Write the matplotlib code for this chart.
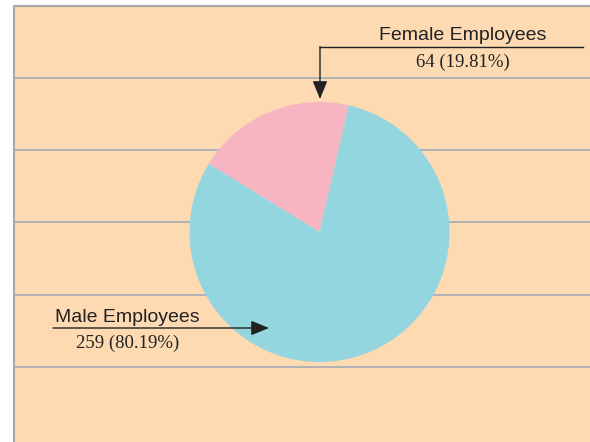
import matplotlib.pyplot as plt
from matplotlib.patches import Rectangle

# data
labels = ['Female Employees', 'Male Employees']
counts = [64, 259]
colors = ['#F7B5C1', '#93D6E0']

total = sum(counts)
pcts = [c / total * 100 for c in counts]

fig = plt.figure(figsize=(5.9, 4.42), dpi=100)
fig.patch.set_facecolor('white')
ax = fig.add_axes([0, 0, 1, 1])

# plot area background + border
ax.add_patch(Rectangle((13.5, 5.5), 600, 500, facecolor='#FDDAB2',
                       edgecolor='#A8A8A8', linewidth=1.5, zorder=0))
for y in [78, 150, 222, 294.5, 366.5]:
    ax.plot([14, 590], [y, y], color='#A3AAB8', linewidth=1.2, zorder=1)

# pie (y axis is flipped below, so go clockwise in data coords)
ax.pie(counts, colors=colors, startangle=-77, counterclock=False,
       center=(319.5, 232), radius=130, frame=True,
       wedgeprops=dict(linewidth=0))
ax.set_xlim(0, 590)
ax.set_ylim(442, 0)
ax.axis('off')

# female callout
ax.plot([320, 583], [47, 47], color='#222222', linewidth=1)
ax.annotate('', xy=(320, 99), xytext=(320, 46.5),
            arrowprops=dict(arrowstyle='-|>,head_length=1.1,head_width=0.45',
                            color='#222222', lw=1, shrinkA=0, shrinkB=0))
ax.text(463, 35, labels[0], ha='center', va='center', fontsize=14,
        family='Liberation Sans', color='#222222')
ax.text(463, 62, f'{counts[0]} ({pcts[0]:.2f}%)', ha='center', va='center',
        fontsize=13.5, family='Liberation Serif', color='#222222')

# male callout
ax.annotate('', xy=(269, 328), xytext=(53, 328),
            arrowprops=dict(arrowstyle='-|>,head_length=1.1,head_width=0.45',
                            color='#222222', lw=1, shrinkA=0, shrinkB=0))
ax.text(55, 318, labels[1], ha='left', va='center', fontsize=14,
        family='Liberation Sans', color='#222222')
ax.text(128, 343, f'{counts[1]} ({pcts[1]:.2f}%)', ha='center', va='center',
        fontsize=13.5, family='Liberation Serif', color='#222222')

fig.savefig('out.png', dpi=100)
